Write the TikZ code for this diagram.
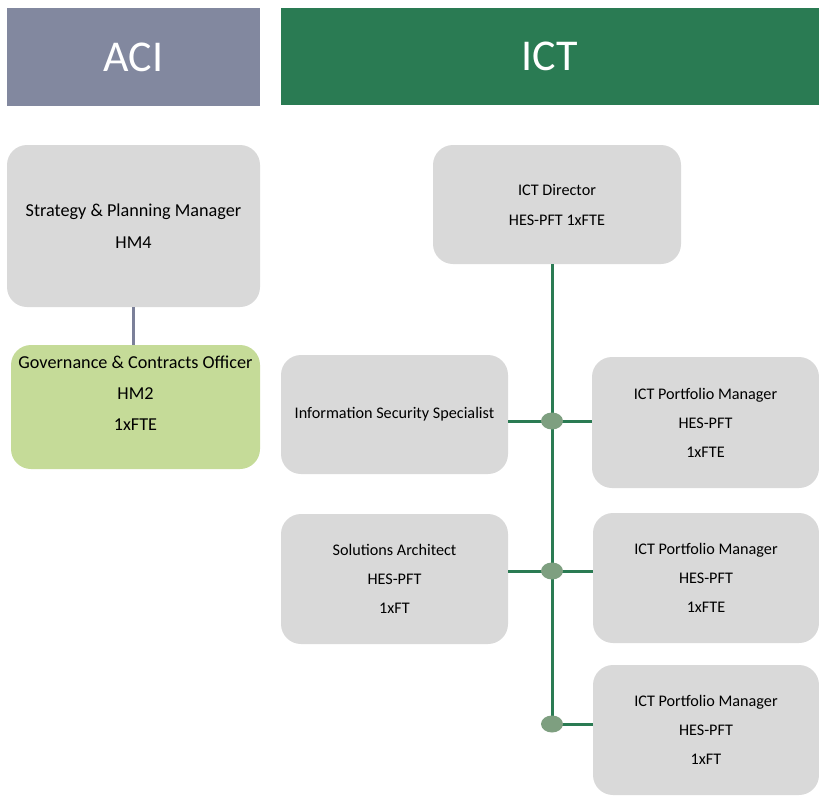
\documentclass[tikz,border=0pt]{standalone}
\usepackage{fontspec}
\setmainfont{Carlito}
\usetikzlibrary{shapes.geometric}

\definecolor{aciblue}{HTML}{82889F}
\definecolor{ictgreen}{HTML}{2A7B53}
\definecolor{boxgrey}{HTML}{D9D9D9}
\definecolor{govgreen}{HTML}{C5DB98}
\definecolor{dotgreen}{HTML}{7E9F80}
\definecolor{aciline}{HTML}{7B8099}

\tikzset{
  header/.style={rectangle, inner sep=0pt, text=white,
    font=\fontsize{44}{44}\selectfont},
  rolebox/.style={rectangle, rounded corners=20pt, fill=boxgrey, inner sep=0pt,
    align=center, text=black},
  bodytext/.style={font=\fontsize{16.2}{#1}\selectfont},
  bodytext/.default=29,
  acitext/.style={font=\fontsize{18.2}{#1}\selectfont},
  ictline/.style={draw=ictgreen, line width=3pt},
  aciconn/.style={draw=aciline, line width=3pt},
  junction/.style={ellipse, fill=dotgreen, minimum width=22pt, minimum height=17pt, inner sep=0pt},
}

\begin{document}
\begin{tikzpicture}[x=1pt, y=-1pt]
\useasboundingbox (0,0) rectangle (819,801);

% division headers
\node[header, fill=aciblue, minimum width=253pt, minimum height=98pt] (aci) at (133.5,57) {ACI};
\node[header, fill=ictgreen, minimum width=538pt, minimum height=97pt] (ict) at (550,56.5) {ICT};

% ACI roles
\node[rolebox, acitext=32, minimum width=253pt, minimum height=162pt] (spm) at (133.5,226)
  {Strategy \& Planning Manager\\HM4};
\node[rolebox, fill=govgreen, minimum width=249pt, minimum height=124pt] (gco) at (135.5,407) {};
\node[acitext=31, align=center] (gcotext) at (135.5,393)
  {Governance \& Contracts Officer\\HM2\\1xFTE};
\draw[aciconn] (spm.south) -- (spm.south |- gco.north);

% ICT roles
\node[rolebox, bodytext=30, minimum width=248pt, minimum height=119pt] (dir) at (557,204.5)
  {ICT Director\\HES-PFT 1xFTE};
\node[rolebox, bodytext, minimum width=227pt, minimum height=119pt] (iss) at (394.5,414.5)
  {Information Security Specialist};
\node[rolebox, bodytext, minimum width=227pt, minimum height=131pt] (pm1) at (705.5,422.5)
  {ICT Portfolio Manager\\HES-PFT\\1xFTE};
\node[rolebox, bodytext, minimum width=227pt, minimum height=130pt] (sa) at (394.5,579)
  {Solutions Architect\\HES-PFT\\1xFT};
\node[rolebox, bodytext, minimum width=226pt, minimum height=130pt] (pm2) at (706,578)
  {ICT Portfolio Manager\\HES-PFT\\1xFTE};
\node[rolebox, bodytext, minimum width=226pt, minimum height=130pt] (pm3) at (706,730)
  {ICT Portfolio Manager\\HES-PFT\\1xFT};

% reporting lines
\coordinate (j1) at (552,421);
\coordinate (j2) at (552,571);
\coordinate (j3) at (552,724);
\draw[ictline] (dir.south -| j1) -- (j3);
\draw[ictline] (j1 -| iss.east) -- (j1 -| pm1.west);
\draw[ictline] (j2 -| sa.east) -- (j2 -| pm2.west);
\draw[ictline] (j3) -- (j3 -| pm3.west);
\node[junction] (d1) at (j1) {};
\node[junction] (d2) at (j2) {};
\node[junction] (d3) at (j3) {};
\end{tikzpicture}
\end{document}
